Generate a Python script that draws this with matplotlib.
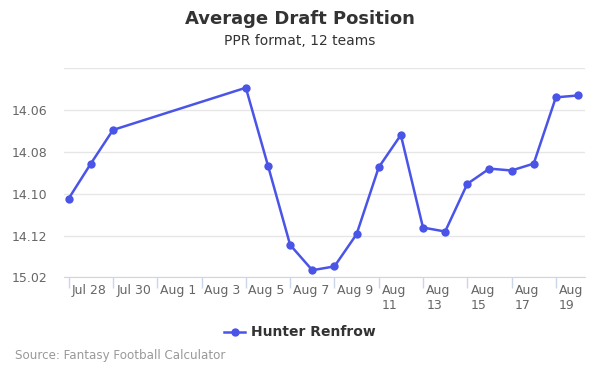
import matplotlib
matplotlib.use("Agg")
import matplotlib.pyplot as plt
import numpy as np
import datetime as dt

# Data: date labels and ADP as overall pick number (12-team league)
dates = ["2019-07-27", "2019-07-28", "2019-07-29", "2019-08-04", "2019-08-05",
         "2019-08-06", "2019-08-07", "2019-08-08", "2019-08-09", "2019-08-10",
         "2019-08-11", "2019-08-12", "2019-08-13", "2019-08-14", "2019-08-15",
         "2019-08-16", "2019-08-17", "2019-08-18", "2019-08-19"]
adp_picks = [166.23, 164.56, 162.95, 160.93, 164.66,
             168.45, 169.66, 169.48, 167.94, 164.74,
             163.19, 167.62, 167.81, 165.53, 164.80,
             164.89, 164.56, 161.39, 161.30]
x_labels = ["Jul 28", "Jul 30", "Aug 1", "Aug 3", "Aug 5", "Aug 7", "Aug 9",
            "Aug\n11", "Aug\n13", "Aug\n15", "Aug\n17", "Aug\n19"]
y_ticks = [162, 164, 166, 168, 170]
teams = 12

start = dt.date(2019, 7, 27)
xd = [(dt.date.fromisoformat(d) - start).days for d in dates]

def fmt_pick(p):
    p = int(round(p))
    rnd = (p - 1) // teams + 1
    pk = (p - 1) % teams + 1
    return f"{rnd}.{pk:02d}"

W, H = 600, 375
fig = plt.figure(figsize=(6, 3.75), dpi=100)
left, right, top, bottom = 64, 585, 68.3, 277.3
ax = fig.add_axes([left / W, 1 - bottom / H, (right - left) / W, (bottom - top) / H])

line_color = "#4a55e8"
ax.plot(xd, adp_picks, color=line_color, lw=1.8, marker="o", ms=6,
        markeredgewidth=0, zorder=3, label="Hunter Renfrow")

day_px = (578 - 68.7) / 23
ax.set_xlim(-(68.7 - left) / day_px, 22 + 1 + (right - 578) / day_px)
ax.set_ylim(170, 160)

# y grid
ax.set_yticks([160] + y_ticks)
ax.set_yticklabels([""] + [fmt_pick(v) for v in y_ticks])
ax.yaxis.grid(True, color="#e6e6e6", lw=1)
ax.tick_params(axis="y", length=0, labelsize=9, labelcolor="#666666", pad=12)

# x ticks: marks at odd days, labels between
ax.set_xticks(np.arange(0, 24, 2))
ax.set_xticklabels([])
ax.tick_params(axis="x", which="major", length=8, color="#ccd6eb", width=1)
label_pos = [v - (0.3 if "\n" in lab else 0.06)
             for v, lab in zip(np.arange(1, 24, 2), x_labels)]
ax.set_xticks(label_pos, minor=True)
ax.set_xticklabels(x_labels, minor=True, multialignment="left")
ax.tick_params(axis="x", which="minor", length=0, labelsize=9,
               labelcolor="#666666", pad=5)

for s in ["left", "right", "top"]:
    ax.spines[s].set_visible(False)
ax.spines["bottom"].set_color("#ccd6eb")
ax.set_axisbelow(True)

fig.text(0.5, 1 - 19 / H, "Average Draft Position", ha="center", va="center",
         fontsize=13, fontweight="bold", color="#333333")
fig.text(0.5, 1 - 41 / H, "PPR format, 12 teams", ha="center", va="center",
         fontsize=10, color="#333333")

leg = fig.legend(loc="center", bbox_to_anchor=(300 / W, 1 - 332.5 / H), frameon=False,
                 prop={"weight": "bold", "size": 10}, handlelength=1.5,
                 handletextpad=0.4)
for t in leg.get_texts():
    t.set_color("#333333")

fig.text(15 / W, 1 - 356 / H, "Source: Fantasy Football Calculator", ha="left",
         va="center", fontsize=8.6, color="#999999")

fig.savefig("out.png", dpi=100)
